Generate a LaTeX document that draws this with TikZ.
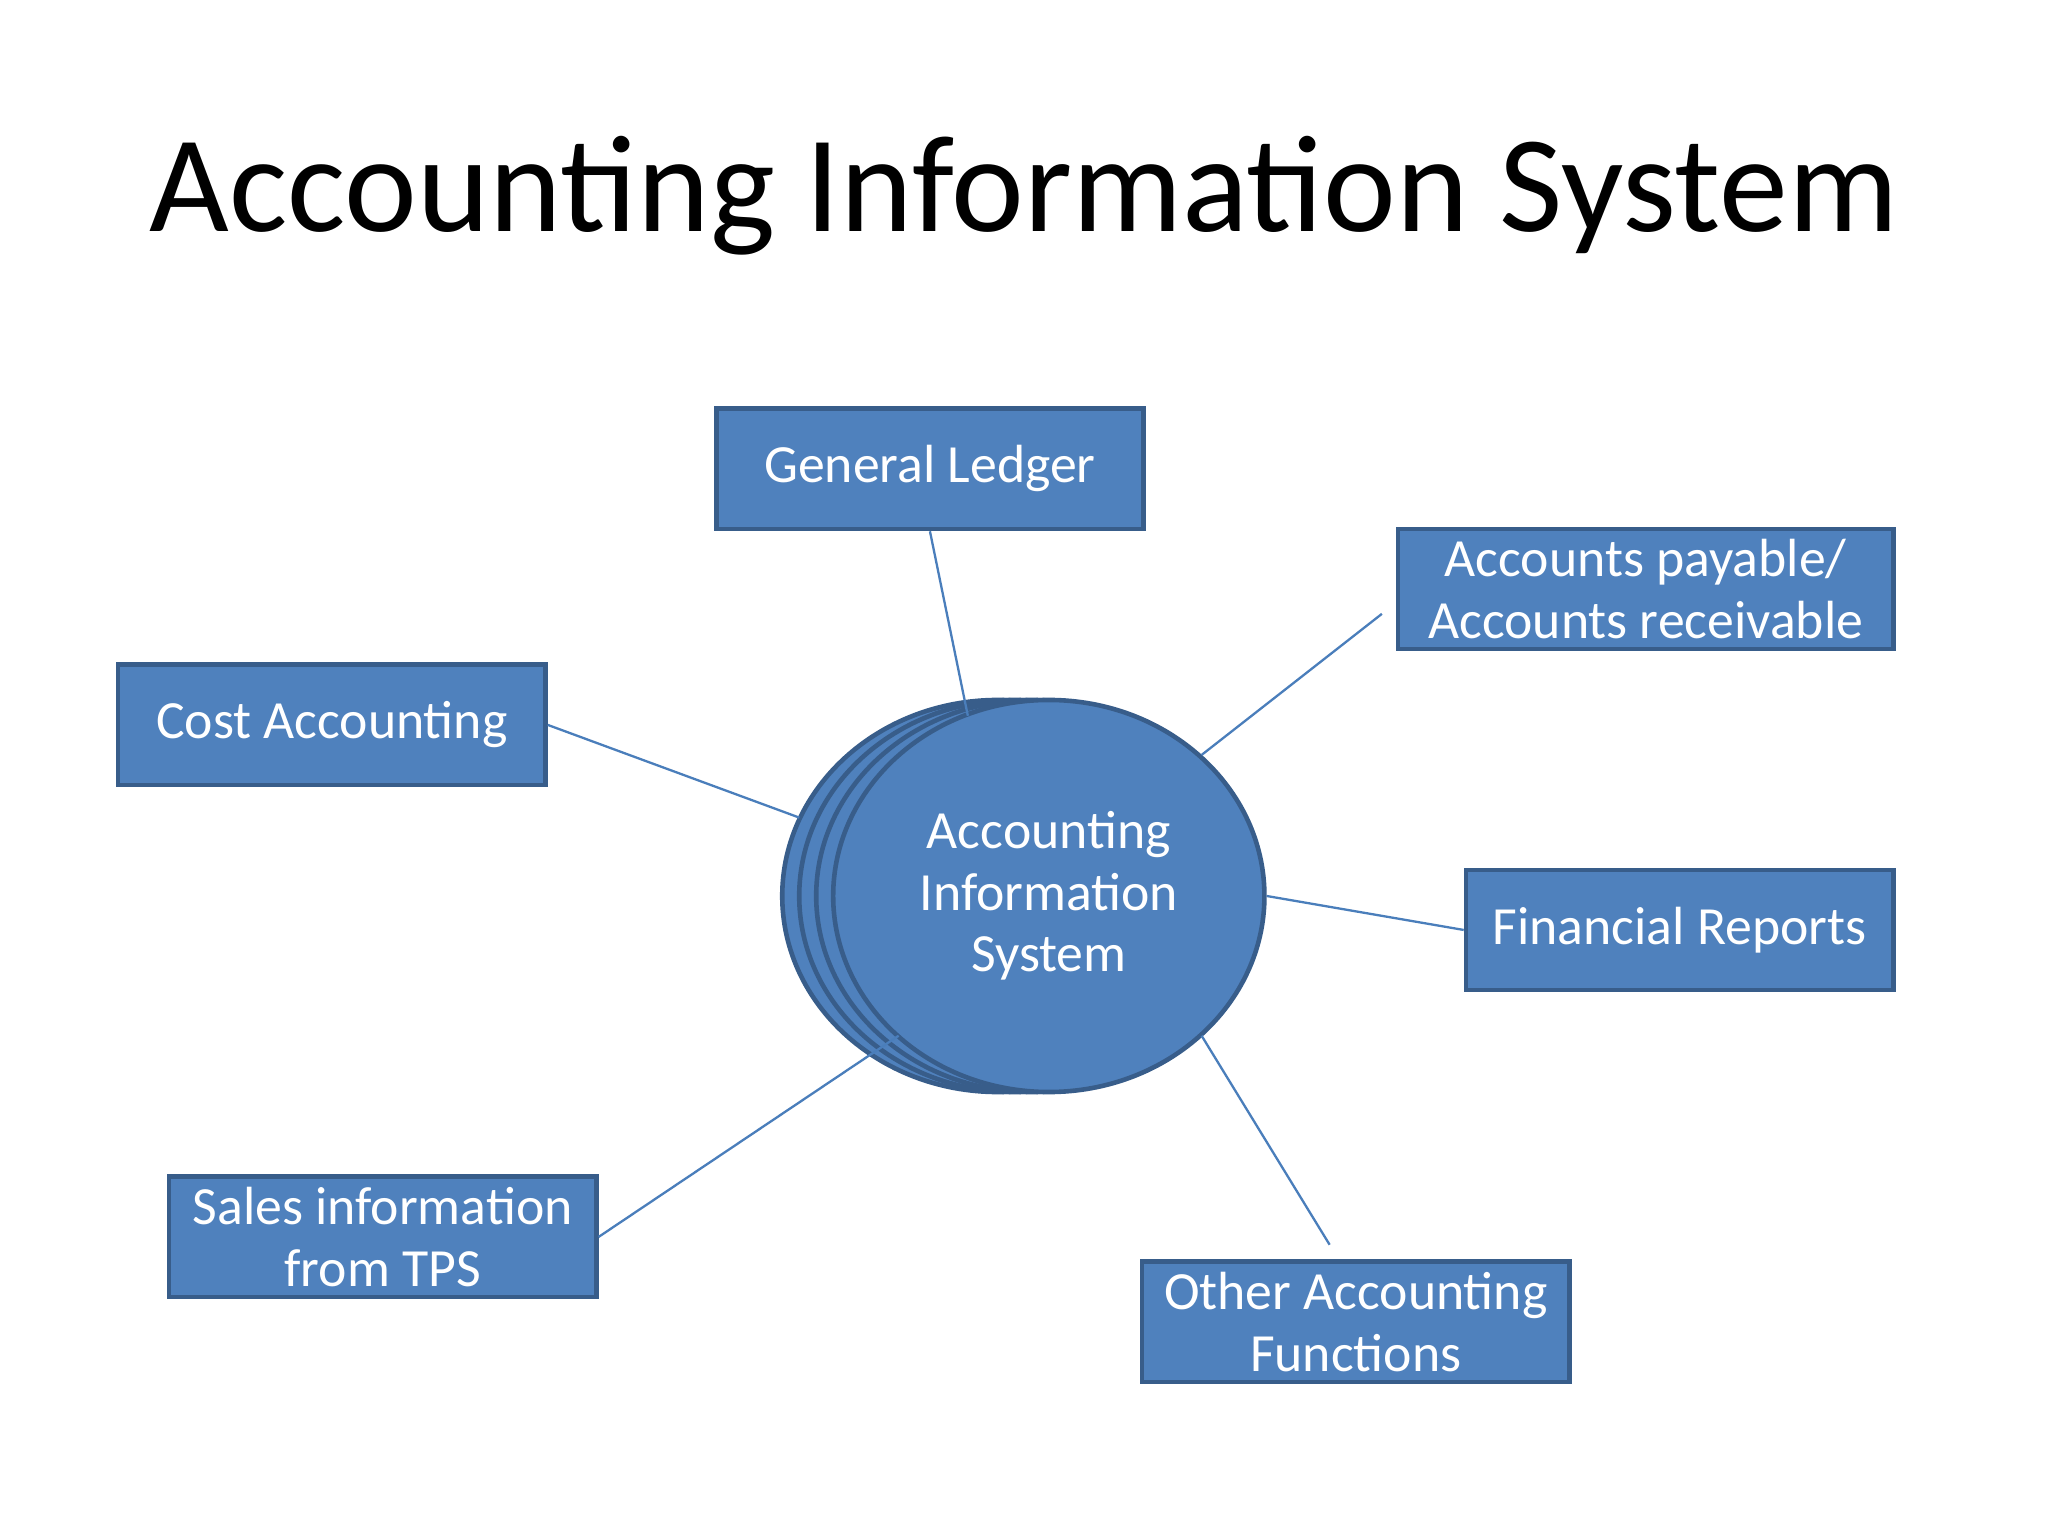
\documentclass[tikz,border=0pt]{standalone}
\usepackage{fontspec}
\usetikzlibrary{shapes.geometric}
\setmainfont{Carlito}
\definecolor{boxfill}{HTML}{4F81BD}
\definecolor{boxline}{HTML}{385D8A}
\definecolor{conn}{HTML}{4A7EBB}
\begin{document}
\begin{tikzpicture}[x=0.01cm,y=-0.01cm,
  bx/.style={draw=boxline,line width=1pt,fill=boxfill,text=white,minimum width=3.27cm,minimum height=0.92cm,align=center,font=\fontsize{11.7}{13.4}\selectfont,inner sep=0pt},
  ell/.style={ellipse,draw=boxline,line width=1pt,fill=boxfill,minimum width=3.3cm,minimum height=3.0cm,inner sep=0pt},
  cn/.style={draw=conn,line width=0.5pt}]
\useasboundingbox (0,0) rectangle (1568,1176);
\fill[white] (0,0) rectangle (1568,1176);
\node (title) at (784,150) {\fontsize{30}{36}\selectfont Accounting Information System};
\node[bx] (gl) at (712,359) {General Ledger};
\node[bx,minimum width=3.79cm] (ap) at (1260,451) {Accounts payable/\\Accounts receivable};
\node[bx] (ca) at (254,555) {Cost Accounting};
\node[bx] (fr) at (1286,712) {Financial Reports};
\node[bx] (si) at (293,947) {Sales information\\from TPS};
\node[bx] (oa) at (1038,1012) {Other Accounting\\Functions};
\node[ell] (e4) at (764,686) {};
\node[ell] (e3) at (777,686) {};
\node[ell] (e2) at (790,686) {};
\node[ell,text=white,align=center,font=\fontsize{11.7}{13.4}\selectfont] (e1) at (803,686) {Accounting\\Information\\System};
\coordinate (a1) at (741,548);
\coordinate (a2) at (1058,470);
\coordinate (a3) at (920,578);
\coordinate (a4) at (612,626);
\coordinate (a5) at (688,793);
\coordinate (a6) at (920,793);
\coordinate (a7) at (1018,953);
\draw[cn] (gl.south) -- (a1);
\draw[cn] (a2) -- (a3);
\draw[cn] (ca.east) -- (a4);
\draw[cn] (e1.east) -- (fr.west);
\draw[cn] (si.east) -- (a5);
\draw[cn] (a6) -- (a7);
\end{tikzpicture}
\end{document}
